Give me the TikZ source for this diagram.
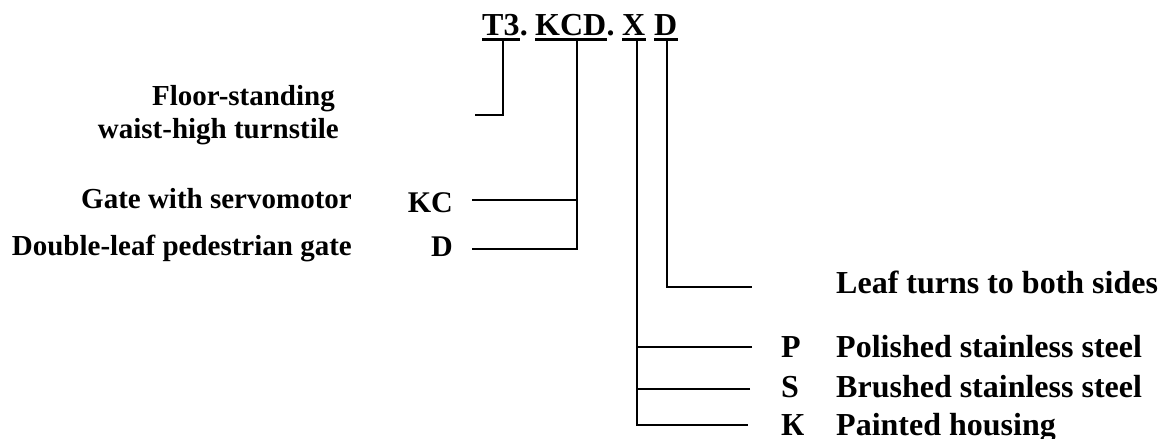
\documentclass[tikz,border=0pt]{standalone}
\usepackage{fontspec}
\setmainfont{Liberation Serif}
\begin{document}
\begin{tikzpicture}[x=1pt,y=-1pt,
  lbl/.style={inner sep=0pt, font=\bfseries\fontsize{29}{33}\selectfont},
  rlbl/.style={inner sep=0pt, font=\bfseries\fontsize{32}{36}\selectfont},
  ttl/.style={inner sep=0pt, font=\bfseries\fontsize{32}{36}\selectfont},
  ln/.style={line width=1.7pt},
  ul/.style={line width=2.6pt}]
\useasboundingbox (0,0) rectangle (1170,439);
% title
\node[ttl,anchor=base west] (t3) at (482,35) {T3};
\node[ttl,anchor=base west] (dot1) at (t3.base east) {.};
\node[ttl,anchor=base west] (kcd) at (535,35) {KCD};
\node[ttl,anchor=base west] (dot2) at (kcd.base east) {.};
\node[ttl,anchor=base west] (xx) at (622,35) {X};
\node[ttl,anchor=base west] (dd) at (654,35) {D};
\foreach \n in {t3,kcd,xx,dd}
  \draw[ul] ([yshift=-4.5pt]\n.base west) -- ([yshift=-4.5pt]\n.base east);
% junction coordinates
\coordinate (t3j) at (503,39);
\coordinate (kcdj) at (577,39);
\coordinate (xj) at (637,39);
\coordinate (dj) at (667,39);
\coordinate (t3e) at (475,115);
\coordinate (kce) at (472,200);
\coordinate (de) at (472,249);
\coordinate (le) at (752,287);
\coordinate (pe) at (752,347);
\coordinate (se) at (750,389);
\coordinate (ke) at (748,425);
% left labels
\node[lbl,anchor=base east] (floor1) at (335,105) {Floor-standing};
\node[lbl,anchor=base east] (floor2) at (339,138) {waist-high turnstile};
\node[lbl,anchor=base east] (gate) at (352,208) {Gate with servomotor};
\node[lbl,anchor=base east,font=\bfseries\fontsize{30}{34}\selectfont] (kc) at (453,212) {KC};
\node[lbl,anchor=base east] (dbl) at (352,255) {Double-leaf pedestrian gate};
\node[lbl,anchor=base east,font=\bfseries\fontsize{30}{34}\selectfont] (dl) at (453,256) {D};
% right labels
\node[rlbl,anchor=base west] (leaf) at (836,293) {Leaf turns to both sides};
\node[rlbl,anchor=base west] (p) at (781,357) {P};
\node[rlbl,anchor=base west] (pt) at (836,357) {Polished stainless steel};
\node[rlbl,anchor=base west] (s) at (781,397) {S};
\node[rlbl,anchor=base west] (st) at (836,397) {Brushed stainless steel};
\node[rlbl,anchor=base west] (k) at (781,435) {К};
\node[rlbl,anchor=base west] (kt) at (836,435) {Painted housing};
% connectors
\draw[ln] (t3j) |- (t3e);
\draw[ln] (kcdj) |- (de);
\draw[ln] (kce) -- (kce -| kcdj);
\draw[ln] (dj) |- (le);
\draw[ln] (xj) |- (ke);
\draw[ln] (pe) -- (pe -| xj);
\draw[ln] (se) -- (se -| xj);
\end{tikzpicture}
\end{document}
